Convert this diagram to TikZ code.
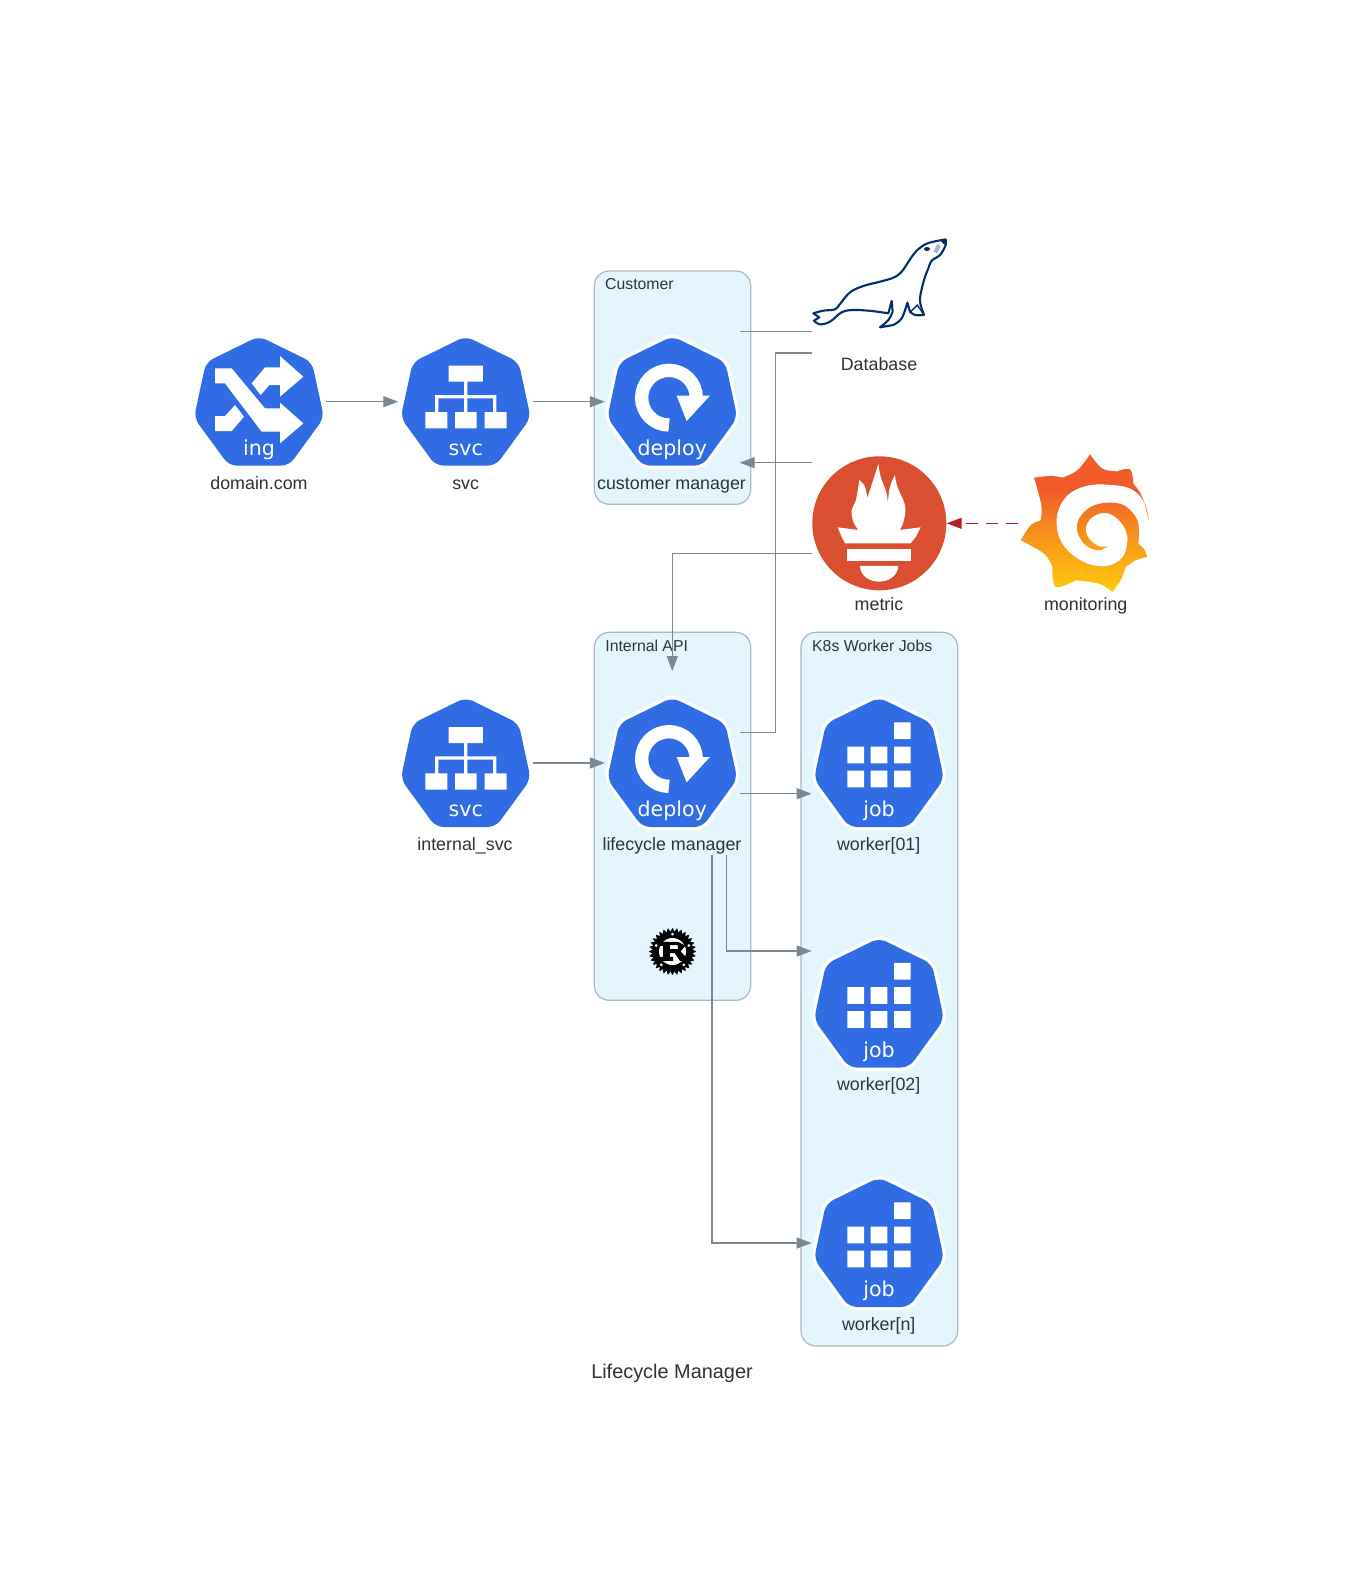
\documentclass[tikz,border=0pt]{standalone}
\usepackage{fontspec}
\setmainfont{Liberation Sans}
\newfontfamily\icofont{DejaVu Sans}
\usetikzlibrary{arrows.meta,calc}
\definecolor{kblue}{HTML}{326CE5}
\definecolor{ink}{HTML}{2D3436}
\definecolor{edgec}{HTML}{7B8894}
\definecolor{boxf}{HTML}{E5F5FD}
\definecolor{boxl}{HTML}{AEB6BE}
\definecolor{seal}{HTML}{002F6C}
\definecolor{prom}{HTML}{DA4E31}
\definecolor{redc}{HTML}{B22222}
\definecolor{gtop}{HTML}{F15B2A}
\definecolor{gmid}{HTML}{F68B1F}
\definecolor{gbot}{HTML}{FFCB0A}
\pgfdeclareverticalshading{grafshade}{100bp}{color(0bp)=(gbot); color(25bp)=(gbot); color(48bp)=(gmid); color(62bp)=(gtop); color(100bp)=(gtop)}
\tikzset{
  iconbox/.style={rectangle,minimum size=134.8pt,inner sep=0,outer sep=0},
  nlabel/.style={anchor=base,inner sep=0,text=ink,font=\fontsize{17.85}{20}\selectfont},
  clabel/.style={anchor=base west,inner sep=0,text=ink,font=\fontsize{15.8}{18}\selectfont},
  kicotext/.style={anchor=base,inner sep=0,text=white,font=\icofont\fontsize{20.6}{24}\selectfont},
  cluster/.style={draw=boxl,fill=boxf,line width=1.2pt,rounded corners=15pt},
  edge/.style={draw=edgec,line width=1.3pt,-{Triangle[length=15pt,width=11pt]}},
  plainedge/.style={draw=edgec,line width=1.3pt},
  redge/.style={draw=redc,line width=1.3pt,dash pattern=on 12pt off 8pt,-{Triangle[length=15pt,width=11pt]}},
  glyph/.style={shift={(#1.center)},x=.33333pt,y=-.33333pt},
}
\newcommand{\kubebg}[1]{%
  \begin{scope}[shift={(#1.center)}]
    \draw[white,line width=6.6pt,rounded corners=8pt,fill=white] (0,-65.5)--(53,-39.5)--(65,16)--(30,64)--(-30,64)--(-65,16)--(-53,-39.5)--cycle;
    \fill[kblue,rounded corners=8pt] (0,-65.5)--(53,-39.5)--(65,16)--(30,64)--(-30,64)--(-65,16)--(-53,-39.5)--cycle;
  \end{scope}}
\newcommand{\svcicon}[1]{\kubebg{#1}%
  \begin{scope}[glyph=#1]\fill[white]
    (-51.5,-108) rectangle (51.5,-60)
    (-5,-60) rectangle (5,31)
    (-92,-20) rectangle (92,-10)
    (-92,-20) rectangle (-82,31)
    (82,-20) rectangle (92,31)
    (-121,31) rectangle (-55,80)
    (-32,31) rectangle (33,80)
    (57,31) rectangle (123,80);
  \end{scope}
  \node[kicotext] (#1txt) at ($(#1.center)+(0,53.7)$) {svc};}
\newcommand{\deployicon}[1]{\kubebg{#1}%
  \begin{scope}[glyph=#1]
    \draw[white,line width=13.3pt] (-10,70) arc[start angle=90,end angle=360,radius=82];
    \fill[white] (13,-18)--(113,-18)--(43,58)--cycle;
  \end{scope}
  \node[kicotext] (#1txt) at ($(#1.center)+(0,53.7)$) {deploy};}
\newcommand{\jobicon}[1]{\kubebg{#1}%
  \begin{scope}[glyph=#1]\fill[white]
    (45,-122) rectangle (95,-72)
    (-95,-49) rectangle (-45,1) (-25,-49) rectangle (25,1) (45,-49) rectangle (95,1)
    (-95,23) rectangle (-45,73) (-25,23) rectangle (25,73) (45,23) rectangle (95,73);
  \end{scope}
  \node[kicotext] (#1txt) at ($(#1.center)+(0,53.7)$) {job};}
\begin{document}
\begin{tikzpicture}[x=1pt,y=-1pt]
\useasboundingbox (0,0) rectangle (1345,1582);
\fill[white] (0,0) rectangle (1345,1582);
% clusters
\draw[cluster] (594.3,271) rectangle (750.7,504.3);
\draw[cluster] (594.3,632.3) rectangle (750.7,1000.3);
\draw[cluster] (801,632.3) rectangle (957.7,1346);
\node[clabel] (clcust) at (605,289) {Customer};
\node[clabel] (clint) at (605.2,651) {Internal API};
\node[clabel] (clk8s) at (812,651) {K8s Worker Jobs};
% nodes
\node[iconbox] (ing) at (259,401.7) {};
\node[iconbox] (svc) at (465.7,401.7) {};
\node[iconbox] (cust) at (672.3,401.7) {};
\node[iconbox] (db) at (879,282) {};
\node[iconbox] (metric) at (879.3,523.3) {};
\node[iconbox] (graf) at (1085.7,523.3) {};
\node[iconbox] (isvc) at (465.7,763) {};
\node[iconbox] (life) at (672.3,763) {};
\node[iconbox] (wa) at (879,763) {};
\node[iconbox] (wb) at (879,1003.5) {};
\node[iconbox] (wc) at (879,1243) {};
% ing icon
\kubebg{ing}
\begin{scope}[glyph=ing,shift={(-237,-245)}]
  \fill[white] (105,145)--(155,145)--(255,265)--(300,265)--(300,248)--(370,310)--(300,370)--(300,335)--(245,335)--(135,190)--(105,190)--cycle;
  \fill[white] (215,190)--(255,142)--(300,142)--(300,108)--(370,170)--(300,230)--(300,195)--(268,195)--(242,225)--cycle;
  \fill[white] (105,288)--(135,288)--(165,255)--(192,290)--(155,333)--(105,333)--cycle;
\end{scope}
\node[kicotext] (ingtxt) at ($(ing.center)+(0,53.7)$) {ing};
\svcicon{svc}
\deployicon{cust}
\svcicon{isvc}
\deployicon{life}
\jobicon{wa}
\jobicon{wb}
\jobicon{wc}
% MariaDB seal
\begin{scope}[glyph=db,shift={(-237,-156)}]
  \draw[seal,line width=2.1pt,line join=round]
    plot[smooth,tension=.6] coordinates {(437,28)(410,33)(378,42)(350,62)(330,88)(305,125)(280,143)(240,155)(190,168)(150,187)(120,222)(105,238)(70,242)(40,250)}
    -- (58,262) -- plot[smooth,tension=.6] coordinates {(42,272)(60,283)(90,275)(125,247)(160,240)(215,243)(265,250)}
    -- (275,213) -- plot[smooth,tension=.6] coordinates {(278,245)(265,270)(240,292)}
    -- plot[smooth,tension=.6] coordinates {(280,285)(305,265)(322,218)}
    -- plot[smooth,tension=.6] coordinates {(330,245)(345,255)(372,255)}
    -- plot[smooth,tension=.6] coordinates {(365,235)(360,205)(372,150)(385,115)(395,92)(420,75)(437,45)(437,28)};
  \draw[seal,line width=1.3pt] (332,245)--(352,225)--(372,255);
  \fill[seal] (381,57) ellipse [x radius=9,y radius=6];
  \fill[seal] (420,30)--(438,26)--(438,44)--(430,42)--cycle;
  \fill[seal!35] (400,65)--(412,42)--(422,48)--(412,70)--cycle;
\end{scope}
% Prometheus
\fill[prom] (metric.center) circle[radius=67];
\begin{scope}[glyph=metric,shift={(-268,-250)}]
  \fill[white]
    plot[smooth,tension=.6] coordinates {(205,270)(190,245)(185,210)(198,180)(208,120)}
    -- plot[smooth,tension=.6] coordinates {(208,120)(225,140)(232,175)}
    -- plot[smooth,tension=.6] coordinates {(232,175)(248,125)(265,72)}
    -- plot[smooth,tension=.6] coordinates {(265,72)(272,110)(290,160)(293,195)}
    -- plot[smooth,tension=.6] coordinates {(293,195)(300,140)(315,105)}
    -- plot[smooth,tension=.6] coordinates {(315,105)(322,140)(345,195)(342,240)(330,270)}
    -- (392,262) -- (378,290) -- (362,310) -- (165,310) -- (155,290) -- (143,262) -- cycle;
  \fill[white] (172,327) rectangle (362,362);
  \fill[white] (210,378) .. controls (212,410) and (240,425) .. (267,425) .. controls (295,425) and (322,410) .. (325,378) -- cycle;
\end{scope}
% Grafana
\begin{scope}[shift={(graf.center)},x=.33333pt,y=-.33333pt,shift={(-225,-234)}]
  \shade[shading=grafshade]
    plot[smooth,tension=.6] coordinates {(415,228)(400,170)(360,130)(290,118)(225,122)(170,150)(140,205)(143,270)(175,320)(230,355)(290,362)(335,337)(350,290)(345,255)(325,225)(295,205)(265,205)(235,225)(225,255)(235,280)(262,302)(290,303)}
    -- plot[smooth,tension=.6] coordinates {(290,303)(265,315)(225,300)(200,260)(205,220)(240,185)(290,172)(340,180)(375,215)(385,250)(383,295)}
    -- plot[smooth,tension=.6] coordinates {(383,295)(400,312)(410,335)}
    -- plot[smooth,tension=.6] coordinates {(410,335)(375,345)(345,365)}
    -- plot[smooth,tension=.6] coordinates {(345,365)(330,405)(305,440)}
    -- plot[smooth,tension=.6] coordinates {(305,440)(265,415)(195,405)}
    -- plot[smooth,tension=.6] coordinates {(195,405)(135,425)(125,365)}
    -- plot[smooth,tension=.6] coordinates {(125,365)(100,325)(30,285)}
    -- plot[smooth,tension=.6] coordinates {(30,285)(60,240)(90,225)}
    -- plot[smooth,tension=.6] coordinates {(90,225)(92,180)(70,97)}
    -- plot[smooth,tension=.6] coordinates {(70,97)(120,92)(155,97)}
    -- plot[smooth,tension=.6] coordinates {(155,97)(200,75)(238,27)}
    -- plot[smooth,tension=.6] coordinates {(238,27)(275,70)(320,78)}
    -- plot[smooth,tension=.6] coordinates {(320,78)(358,72)(368,115)}
    -- plot[smooth,tension=.6] coordinates {(368,115)(395,155)(415,228)}
    -- cycle;
\end{scope}
% Rust logo
\node[circle,minimum size=47pt,inner sep=0] (rustlogo) at (672.5,951.5) {};
\begin{scope}[shift={(rustlogo.center)}]
  \fill[black] plot[domain=0:360,samples=129,variable=\t] ({(21.8+1.9*cos(32*\t))*cos(\t)},{(21.8+1.9*cos(32*\t))*sin(\t)}) -- cycle;
  \fill[white] (0,0) circle[radius=13.5];
  \foreach \a in {-90,-20,50,130,200} \fill[white] (\a:17.5) circle[radius=1.5];
\end{scope}
\begin{scope}[glyph=rustlogo,shift={(-128,-129)}]
  \fill[black,even odd rule] (88,100)--(145,100)--(167,112)--(152,128)--(167,145)--(174,145)--(174,157)--(150,157)--(135,134)--(120,134)--(120,145)--(130,145)--(130,157)--(90,157)--(90,145)--(100,145)--(100,112)--(88,112)--cycle
    (120,110) rectangle (144,122);
\end{scope}
% labels
\node[nlabel] (ingl) at (259,489) {domain.com};
\node[nlabel] (svcl) at (465.7,489) {svc};
\node[nlabel] (custl) at (671.5,489) {customer manager};
\node[nlabel] (dbl) at (879,370.5) {Database};
\node[nlabel] (metl) at (879,610.5) {metric};
\node[nlabel] (grafl) at (1085.7,610.5) {monitoring};
\node[nlabel] (isvcl) at (465,850.3) {internal\_svc};
\node[nlabel] (lifel) at (672,850.3) {lifecycle manager};
\node[nlabel] (wal) at (878.7,850.3) {worker[01]};
\node[nlabel] (wbl) at (878.7,1090.5) {worker[02]};
\node[nlabel] (wcl) at (878.7,1330) {worker[n]};
\node[anchor=base,inner sep=0,text=ink,font=\fontsize{19.9}{23}\selectfont] (title) at (672,1378) {Lifecycle Manager};
% connectors
\draw[edge] (ing.east) -- (svc.west);
\draw[edge] (svc.east) -- (cust.west);
\draw[edge] (isvc.east) -- (life.west);
\draw[plainedge] ([yshift=70pt]cust.east) -- ([yshift=-49.7pt]db.west);
\draw[plainedge] ([yshift=-71pt]db.west) -- ++(-36.2,0) |- ([yshift=30.3pt]life.east);
\draw[edge] ([yshift=60.6pt]metric.west) -- ([yshift=-61pt]cust.east);
\draw[edge] ([yshift=-30.4pt]metric.west) -| ([yshift=24.6pt]life.north);
\draw[redge] (graf.west) -- (metric.east);
\draw[edge] ([yshift=-30.7pt]life.east) -- ([yshift=-30.7pt]wa.west);
\draw[edge] ([xshift=54.4pt,yshift=-24.6pt]life.south) |- ([yshift=52.5pt]wb.west);
\draw[edge] ([xshift=39.7pt,yshift=-24.6pt]life.south) |- (wc.west);
\end{tikzpicture}
\end{document}
